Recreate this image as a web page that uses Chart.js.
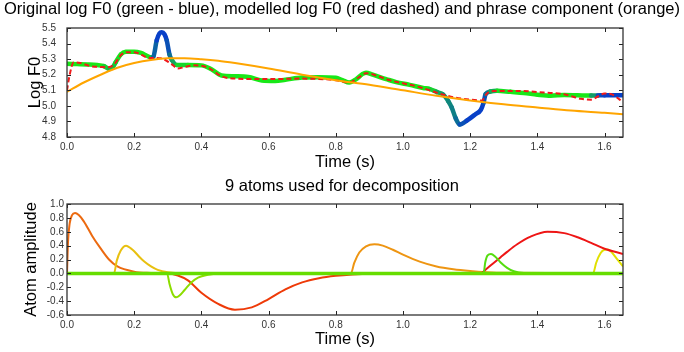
<!DOCTYPE html>
<html><head><meta charset="utf-8">
<script src="https://cdn.jsdelivr.net/npm/chart.js@4/dist/chart.umd.min.js"></script>
<style>
html,body{margin:0;padding:0;background:#fff;}
#wrap{position:relative;width:684px;height:352px;overflow:hidden;}
canvas{position:absolute;left:0;}
</style></head><body>
<div id="wrap">
<canvas id="top" width="684" height="176" style="top:0"></canvas>
<canvas id="bot" width="684" height="176" style="top:176px"></canvas>
</div>
<script>
// ---------- data ----------
const xTicks = [0.0, 0.2, 0.4, 0.6, 0.8, 1.0, 1.2, 1.4, 1.6];
const topYTicks = [4.8, 4.9, 5.0, 5.1, 5.2, 5.3, 5.4, 5.5];
const botYTicks = [-0.6, -0.4, -0.2, 0.0, 0.2, 0.4, 0.6, 0.8, 1.0];
const tEnd = 1.655;

const f0Time = [0, 0.03, 0.06, 0.09, 0.11, 0.125, 0.135, 0.145, 0.16, 0.175, 0.2, 0.22, 0.235, 0.25, 0.257, 0.267, 0.275, 0.282, 0.29, 0.297, 0.305, 0.312, 0.327, 0.36, 0.4, 0.43, 0.46, 0.5, 0.54, 0.58, 0.62, 0.65, 0.7, 0.75, 0.8, 0.82, 0.84, 0.86, 0.88, 0.89, 0.91, 0.95, 0.98, 1.02, 1.06, 1.08, 1.1, 1.12, 1.135, 1.145, 1.157, 1.169, 1.19, 1.215, 1.232, 1.24, 1.246, 1.26, 1.28, 1.32, 1.36, 1.4, 1.44, 1.48, 1.52, 1.56, 1.58, 1.6, 1.655];
const f0Value = [5.27, 5.268, 5.266, 5.262, 5.255, 5.238, 5.245, 5.28, 5.33, 5.347, 5.348, 5.34, 5.325, 5.31, 5.316, 5.42, 5.465, 5.472, 5.46, 5.42, 5.33, 5.295, 5.262, 5.262, 5.26, 5.235, 5.195, 5.19, 5.185, 5.163, 5.16, 5.168, 5.182, 5.184, 5.18, 5.165, 5.15, 5.17, 5.205, 5.213, 5.2, 5.172, 5.152, 5.135, 5.115, 5.108, 5.09, 5.072, 5.03, 4.99, 4.92, 4.88, 4.905, 4.945, 4.975, 5.02, 5.075, 5.092, 5.097, 5.09, 5.083, 5.072, 5.065, 5.07, 5.068, 5.066, 5.067, 5.068, 5.068];
// 0 = green, 1 = blue
const f0Weight = [0, 0, 0, 0, 0, 0.3, 0.3, 0.1, 0, 0, 0, 0, 0, 0, 0.6, 1, 1, 1, 1, 1, 0.8, 0.6, 0.2, 0, 0, 0, 0, 0, 0, 0, 0, 0, 0, 0, 0, 0, 0, 0, 0, 0, 0, 0, 0, 0, 0, 0, 0.3, 0.5, 0.55, 0.6, 0.65, 0.8, 1, 1, 1, 1, 0.8, 0.6, 0.1, 0, 0, 0, 0, 0, 0, 0, 0.9, 1, 1];

const modelTime = [0, 0.008, 0.02, 0.04, 0.07, 0.1, 0.12, 0.14, 0.16, 0.18, 0.21, 0.24, 0.28, 0.31, 0.33, 0.35, 0.38, 0.42, 0.46, 0.5, 0.6, 0.7, 0.75, 0.8, 0.84, 0.87, 0.89, 0.92, 0.96, 1.0, 1.05, 1.1, 1.15, 1.2, 1.235, 1.25, 1.27, 1.35, 1.42, 1.48, 1.53, 1.56, 1.58, 1.6, 1.62, 1.655];
const modelValue = [5.10, 5.2, 5.28, 5.275, 5.255, 5.25, 5.248, 5.265, 5.325, 5.345, 5.34, 5.31, 5.305, 5.27, 5.24, 5.25, 5.26, 5.245, 5.19, 5.175, 5.172, 5.175, 5.173, 5.165, 5.15, 5.185, 5.21, 5.195, 5.165, 5.145, 5.12, 5.085, 5.055, 5.04, 5.035, 5.08, 5.095, 5.095, 5.085, 5.075, 5.045, 5.04, 5.06, 5.08, 5.075, 5.025];

const phraseTime = [0, 0.05, 0.1, 0.15, 0.2, 0.25, 0.3, 0.35, 0.4, 0.45, 0.5, 0.6, 0.7, 0.8, 0.9, 1.0, 1.1, 1.2, 1.3, 1.4, 1.5, 1.6, 1.655];
const phraseValue = [5.09, 5.15, 5.20, 5.245, 5.275, 5.295, 5.305, 5.306, 5.30, 5.29, 5.275, 5.24, 5.20, 5.165, 5.135, 5.10, 5.065, 5.035, 5.01, 4.99, 4.97, 4.955, 4.946];

const atom1Time = [0, 0.003, 0.008, 0.015, 0.024, 0.035, 0.05, 0.075, 0.1, 0.125, 0.15, 0.2, 0.25, 0.3, 1.655];
const atom1Value = [0, 0.45, 0.72, 0.84, 0.87, 0.84, 0.75, 0.54, 0.36, 0.2, 0.1, 0.025, 0.006, 0, 0];
const atom2Time = [0, 0.14, 0.148, 0.16, 0.176, 0.19, 0.2, 0.215, 0.23, 0.25, 0.27, 0.3, 0.35, 1.655];
const atom2Value = [0, 0, 0.18, 0.33, 0.40, 0.36, 0.32, 0.24, 0.17, 0.1, 0.05, 0.015, 0, 0];
const atom3Time = [0, 0.298, 0.305, 0.315, 0.325, 0.335, 0.35, 0.37, 0.39, 0.42, 0.46, 1.655];
const atom3Value = [0, 0, -0.15, -0.3, -0.345, -0.32, -0.24, -0.13, -0.06, -0.02, 0, 0];
const atom4Time = [0, 0.3, 0.33, 0.36, 0.4, 0.45, 0.5, 0.55, 0.6, 0.65, 0.7, 0.75, 0.8, 0.85, 0.9, 1.655];
const atom4Value = [0, 0, -0.03, -0.1, -0.28, -0.44, -0.525, -0.49, -0.37, -0.23, -0.13, -0.07, -0.035, -0.015, -0.005, 0];
const atom5Time = [0, 0.845, 0.855, 0.87, 0.89, 0.915, 0.94, 0.97, 1.0, 1.05, 1.1, 1.15, 1.2, 1.25, 1.3, 1.655];
const atom5Value = [0, 0, 0.15, 0.3, 0.39, 0.42, 0.4, 0.34, 0.27, 0.17, 0.1, 0.06, 0.035, 0.018, 0.008, 0];
const atom6Time = [0, 1.24, 1.245, 1.252, 1.262, 1.275, 1.29, 1.31, 1.33, 1.36, 1.655];
const atom6Value = [0, 0, 0.16, 0.26, 0.28, 0.24, 0.16, 0.08, 0.03, 0.005, 0];
const atom7Time = [0, 1.23, 1.25, 1.27, 1.29, 1.31, 1.34, 1.38, 1.43, 1.48, 1.52, 1.56, 1.6, 1.655];
const atom7Value = [0, 0, 0.07, 0.15, 0.23, 0.31, 0.42, 0.53, 0.60, 0.58, 0.52, 0.44, 0.355, 0.28];
const atom8Time = [0, 1.566, 1.575, 1.588, 1.6, 1.61, 1.62, 1.635, 1.655];
const atom8Value = [0, 0, 0.15, 0.29, 0.34, 0.345, 0.31, 0.22, 0.1];
const atom9Time = [0, 1.655];
const atom9Value = [0, 0];

// ---------- helpers ----------
const pts = (xs, ys) => xs.map((x, i) => ({x, y: ys[i]}));
const FONT = "'Liberation Sans', Arial, sans-serif";
const TSIZE = 16.5;
function mix(w) {
  const g = [24, 232, 24], b = [8, 64, 200];
  const c = g.map((v, i) => Math.round(v + (b[i] - v) * w));
  return `rgb(${c[0]},${c[1]},${c[2]})`;
}
const frameTicks = {
  id: 'frameTicks',
  afterDatasetsDraw(chart) {
    const {ctx, chartArea: a, scales: {x, y}} = chart;
    ctx.save();
    ctx.strokeStyle = '#222';
    ctx.lineWidth = 1;
    ctx.beginPath();
    x.ticks.forEach(t => {
      const px = Math.round(x.getPixelForValue(t.value)) + 0.5;
      ctx.moveTo(px, a.top); ctx.lineTo(px, a.top + 4);
      ctx.moveTo(px, a.bottom); ctx.lineTo(px, a.bottom - 4);
    });
    y.ticks.forEach(t => {
      const py = Math.round(y.getPixelForValue(t.value)) + 0.5;
      ctx.moveTo(a.left, py); ctx.lineTo(a.left + 4, py);
      ctx.moveTo(a.right, py); ctx.lineTo(a.right - 4, py);
    });
    ctx.stroke();
    ctx.lineWidth = 1.3;
    ctx.strokeStyle = '#333';
    ctx.strokeRect(a.left, a.top, a.right - a.left, a.bottom - a.top);
    ctx.restore();
  }
};

function baseOptions(cfg) {
  return {
    responsive: false,
    animation: false,
    devicePixelRatio: 1,
    layout: {padding: 0},
    plugins: {
      legend: {display: false},
      tooltip: {enabled: false},
      title: {display: true, text: cfg.title, color: '#000',
        font: {family: FONT, size: TSIZE, weight: 'normal'},
        padding: {top: cfg.titleTop, bottom: 28 - TSIZE * 1.2 - cfg.titleTop}}
    },
    elements: {point: {radius: 0}, line: {cubicInterpolationMode: 'monotone'}},
    scales: {
      x: {
        type: 'linear', min: 0, max: tEnd,
        grid: {display: false, drawTicks: false}, border: {display: false},
        afterBuildTicks: s => { s.ticks = xTicks.map(v => ({value: v})); },
        afterFit: s => { s.height = cfg.xAxisH; },
        ticks: {color: '#333', padding: 4, autoSkip: false, font: {family: FONT, size: 10},
          callback: v => Number(v).toFixed(1), maxRotation: 0},
        title: {display: true, text: 'Time (s)', color: '#000',
          font: {family: FONT, size: TSIZE}, padding: {top: 0, bottom: cfg.xTitlePad}}
      },
      y: {
        type: 'linear', min: cfg.yMin, max: cfg.yMax,
        grid: {display: false, drawTicks: false}, border: {display: false},
        afterBuildTicks: s => { s.ticks = cfg.yTicks.map(v => ({value: v})); },
        afterFit: s => { s.width = 67; },
        ticks: {color: '#333', padding: cfg.yTickPad, autoSkip: false, font: {family: FONT, size: 10},
          callback: v => Number(v).toFixed(1)},
        title: {display: true, text: cfg.yTitle, color: '#000',
          font: {family: FONT, size: TSIZE}, padding: {top: cfg.yTitlePad, bottom: 0}}
      },
      yRight: {
        type: 'linear', position: 'right', display: true, min: cfg.yMin, max: cfg.yMax,
        grid: {display: false, drawTicks: false}, border: {display: false},
        ticks: {display: false},
        afterFit: s => { s.width = 61; }
      }
    }
  };
}

// ---------- top chart ----------
new Chart(document.getElementById('top'), {
  type: 'line',
  data: {
    datasets: [
      {data: pts(phraseTime, phraseValue), borderColor: '#ffa500', borderWidth: 2, order: 0},
      {data: pts(modelTime, modelValue), borderColor: '#f01a1a', borderWidth: 2, borderDash: [5, 3], order: 1},
      {data: pts(f0Time, f0Value), borderWidth: 4.5, order: 2, borderCapStyle: 'round', borderJoinStyle: 'round',
        borderColor: mix(0),
        segment: {borderColor: c => mix((f0Weight[c.p0DataIndex] + f0Weight[c.p1DataIndex]) / 2)}}
    ]
  },
  options: baseOptions({title: 'Original log F0 (green - blue), modelled log F0 (red dashed) and phrase component (orange)',
    titleTop: 0, xAxisH: 39, xTitlePad: 4, yMin: 4.8, yMax: 5.5, yTicks: topYTicks,
    yTitle: 'Log F0', yTitlePad: 25.5, yTickPad: 11}),
  plugins: [frameTicks]
});

// ---------- bottom chart ----------
const atoms = [
  [atom9Time, atom9Value, '#66dd00', 3.5],
  [atom6Time, atom6Value, '#55dd10', 2],
  [atom3Time, atom3Value, '#8cdd00', 2],
  [atom7Time, atom7Value, '#ee1515', 2],
  [atom8Time, atom8Value, '#e0e000', 2],
  [atom5Time, atom5Value, '#ee9512', 2],
  [atom2Time, atom2Value, '#e8c010', 2],
  [atom4Time, atom4Value, '#ee3a08', 2],
  [atom1Time, atom1Value, '#ec6a10', 2]
];
new Chart(document.getElementById('bot'), {
  type: 'line',
  data: {
    datasets: atoms.map((a, i) => ({data: pts(a[0], a[1]), borderColor: a[2], borderWidth: a[3], order: i}))
  },
  options: baseOptions({title: '9 atoms used for decomposition',
    titleTop: 1, xAxisH: 37, xTitlePad: 3, yMin: -0.6, yMax: 1.0, yTicks: botYTicks,
    yTitle: 'Atom amplitude', yTitlePad: 22, yTickPad: 3}),
  plugins: [frameTicks]
});
</script>
</body></html>
